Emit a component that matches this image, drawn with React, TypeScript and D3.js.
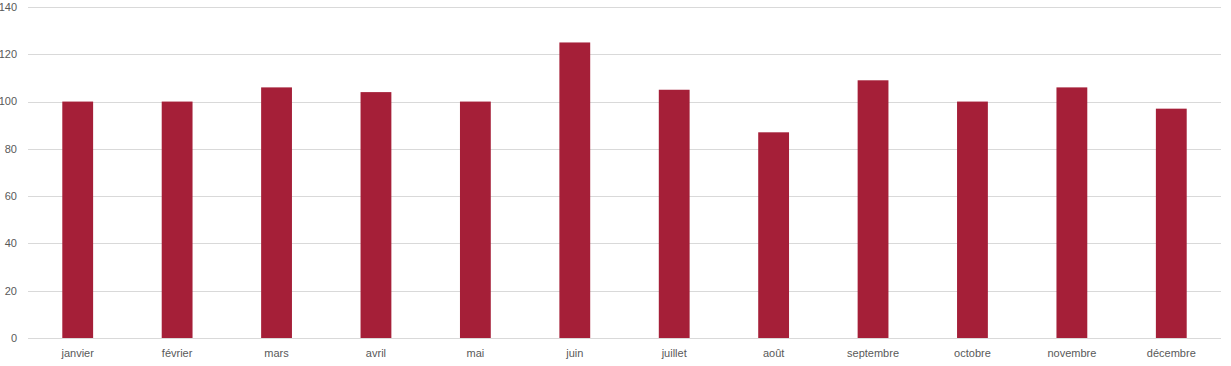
import React, { useEffect, useRef } from "react";
import * as d3 from "d3";

const categories = ["janvier", "février", "mars", "avril", "mai", "juin", "juillet", "août", "septembre", "octobre", "novembre", "décembre"];
const values = [100, 100, 106, 104, 100, 125, 105, 87, 109, 100, 106, 97];
const yTicks = [0, 20, 40, 60, 80, 100, 120, 140];

const W = 1231;
const H = 366;
const margin = { left: 28, right: 10, top: 7, bottom: 28 };

export default function App() {
  const ref = useRef<SVGSVGElement>(null);
  useEffect(() => {
    const svg = d3.select(ref.current);
    svg.selectAll("*").remove();
    const x = d3.scaleBand<string>().domain(categories).range([margin.left, W - margin.right]).paddingInner(0.69).paddingOuter(0.345);
    const y = d3.scaleLinear().domain([0, 140]).range([H - margin.bottom, margin.top]);
    const font = "'Liberation Sans', Arial, sans-serif";

    const grid = svg.append("g");
    grid.selectAll("line").data(yTicks).join("line")
      .attr("x1", margin.left).attr("x2", W - margin.right)
      .attr("y1", (d) => Math.round(y(d)) + 0.5).attr("y2", (d) => Math.round(y(d)) + 0.5)
      .attr("stroke", "#d9d9d9").attr("stroke-width", 1);

    svg.append("g").selectAll("text").data(yTicks).join("text")
      .attr("x", 17).attr("y", (d) => y(d)).attr("dy", "0.35em")
      .attr("text-anchor", "end").attr("font-family", font).attr("font-size", 11).attr("fill", "#595959")
      .text((d) => d);

    svg.append("g").selectAll("rect").data(values).join("rect")
      .attr("x", (_, i) => x(categories[i])!).attr("width", x.bandwidth())
      .attr("y", (d) => y(d)).attr("height", (d) => y(0) - y(d))
      .attr("fill", "#A51F38");

    svg.append("g").selectAll("text").data(categories).join("text")
      .attr("x", (d) => x(d)! + x.bandwidth() / 2).attr("y", 353).attr("dy", "0.35em")
      .attr("text-anchor", "middle").attr("font-family", font).attr("font-size", 11).attr("fill", "#595959")
      .text((d) => d);
  }, []);
  return (
    <svg ref={ref} width={W} height={H} style={{ position: "fixed", left: 0, top: 0, background: "#fff" }} />
  );
}
